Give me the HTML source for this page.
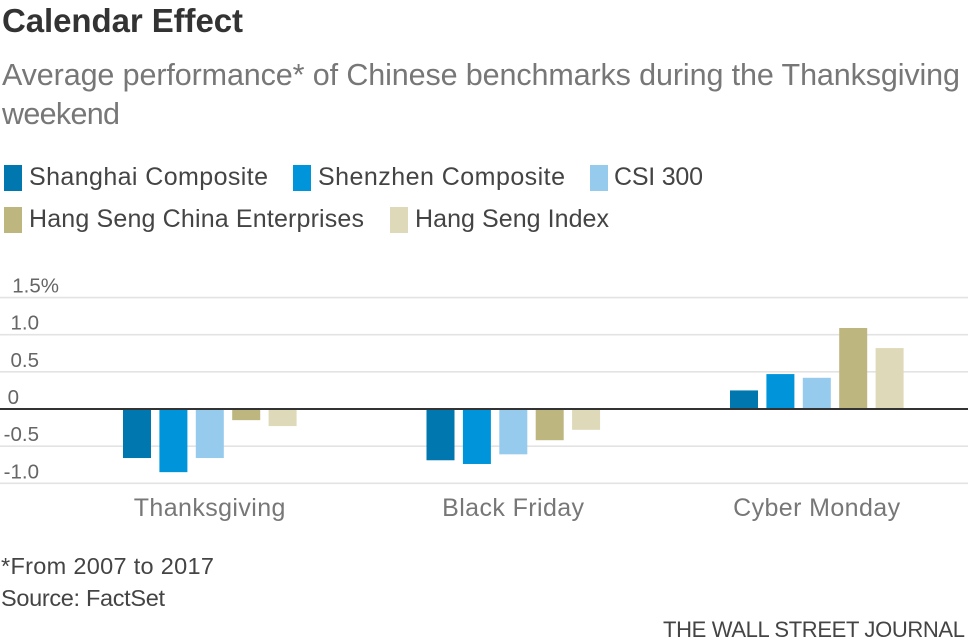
<!DOCTYPE html>
<html>
<head>
<meta charset="utf-8">
<style>
html,body{margin:0;padding:0;background:#fff;}
svg{display:block;font-family:"Liberation Sans",sans-serif;}
.leg{font-size:25px;fill:#444;}
.foot{font-size:23.5px;fill:#444;}
</style>
</head>
<body>
<svg id="chart" width="968" height="644" viewBox="0 0 968 644" xmlns="http://www.w3.org/2000/svg">
  <rect width="968" height="644" fill="#fff"/>
  <text x="2" y="32" font-size="33" font-weight="bold" fill="#333" textLength="241" lengthAdjust="spacing">Calendar Effect</text>
  <text x="2" y="85" font-size="30.5" fill="#777" textLength="958" lengthAdjust="spacing">Average performance* of Chinese benchmarks during the Thanksgiving</text>
  <text x="2" y="124" font-size="30.5" fill="#777" textLength="118" lengthAdjust="spacing">weekend</text>

  <g>
    <rect x="4" y="165" width="18" height="26" fill="#0077AE"/>
    <text class="leg" x="29" y="185" textLength="239" lengthAdjust="spacing">Shanghai Composite</text>
    <rect x="293" y="165" width="18" height="26" fill="#0095DA"/>
    <text class="leg" x="318" y="185" textLength="247" lengthAdjust="spacing">Shenzhen Composite</text>
    <rect x="590" y="165" width="18" height="26" fill="#96CBEE"/>
    <text class="leg" x="614" y="185" textLength="89" lengthAdjust="spacing">CSI 300</text>
    <rect x="4" y="207" width="18" height="26" fill="#BEB67F"/>
    <text class="leg" x="29" y="227" textLength="335" lengthAdjust="spacing">Hang Seng China Enterprises</text>
    <rect x="390" y="207" width="18" height="26" fill="#DED9B8"/>
    <text class="leg" x="415" y="227" textLength="194" lengthAdjust="spacing">Hang Seng Index</text>
  </g>

  <g id="grid"></g>
  <g id="ticks"></g>
  <g id="bars"></g>
  <line id="zero" stroke="#333" stroke-width="2"/>
  <g id="cats"></g>

  <text class="foot" x="1" y="574" textLength="213" lengthAdjust="spacing">*From 2007 to 2017</text>
  <text class="foot" x="1" y="606" textLength="164" lengthAdjust="spacing">Source: FactSet</text>
  <text x="663" y="637" font-size="22" fill="#444" textLength="302" lengthAdjust="spacing">THE WALL STREET JOURNAL</text>
</svg>
<script>
var categories = ["Thanksgiving", "Black Friday", "Cyber Monday"];
var seriesNames = ["Shanghai Composite", "Shenzhen Composite", "CSI 300", "Hang Seng China Enterprises", "Hang Seng Index"];
var seriesColors = ["#0077AE", "#0095DA", "#96CBEE", "#BEB67F", "#DED9B8"];
var shanghaiComposite = [-0.66, -0.69, 0.25];
var shenzhenComposite = [-0.85, -0.74, 0.47];
var csi300 = [-0.66, -0.61, 0.42];
var hangSengChinaEnterprises = [-0.15, -0.42, 1.09];
var hangSengIndex = [-0.23, -0.28, 0.82];
var tickValues = [1.5, 1.0, 0.5, 0, -0.5, -1.0];
var tickLabels = ["1.5%", "1.0", "0.5", "0", "-0.5", "-1.0"];

var allSeries = [shanghaiComposite, shenzhenComposite, csi300, hangSengChinaEnterprises, hangSengIndex];
var NS = "http://www.w3.org/2000/svg";

function yScale(v) {
  return 409 - v * 74.3;
}
function groupStart(i) {
  return 123 + i * 303.5;
}
function barX(catIndex, seriesIndex) {
  return groupStart(catIndex) + seriesIndex * 36.4;
}
function slug(s) {
  return s.toLowerCase().replace(/[^a-z0-9]+/g, "-");
}
function make(tag, attrs, parent) {
  var el = document.createElementNS(NS, tag);
  for (var k in attrs) el.setAttribute(k, attrs[k]);
  parent.appendChild(el);
  return el;
}

var grid = document.getElementById("grid");
var ticks = document.getElementById("ticks");
tickValues.forEach(function (v, i) {
  if (v !== 0) {
    var ln = make("line", {x1: 0, x2: 968, y1: yScale(v), y2: yScale(v), stroke: "#E3E3E3", "stroke-width": 1.6}, grid);
    
    
  }
  var endX = v === 0 ? 19 : (i === 0 ? 59 : 39);
  var t = make("text", {x: endX, y: yScale(v) - 5, "text-anchor": "end", "font-size": 20.5, fill: "#666"}, ticks);
  t.textContent = tickLabels[i];
  
  
});

var bars = document.getElementById("bars");
allSeries.forEach(function (vals, s) {
  vals.forEach(function (v, c) {
    var y0 = yScale(0), y1 = yScale(v);
    var r = make("rect", {x: barX(c, s), y: Math.min(y0, y1), width: 28, height: Math.abs(y1 - y0), fill: seriesColors[s]}, bars);
    
    
  });
});

var zero = document.getElementById("zero");
zero.setAttribute("x1", 0);
zero.setAttribute("x2", 968);
zero.setAttribute("y1", yScale(0));
zero.setAttribute("y2", yScale(0));

var cats = document.getElementById("cats");
categories.forEach(function (name, c) {
  var t = make("text", {x: barX(c, 2) + 14, y: 516, "text-anchor": "middle", "font-size": 25, fill: "#777", "letter-spacing": 0.4}, cats);
  t.textContent = name;
  
  
});
</script>
</body>
</html>
